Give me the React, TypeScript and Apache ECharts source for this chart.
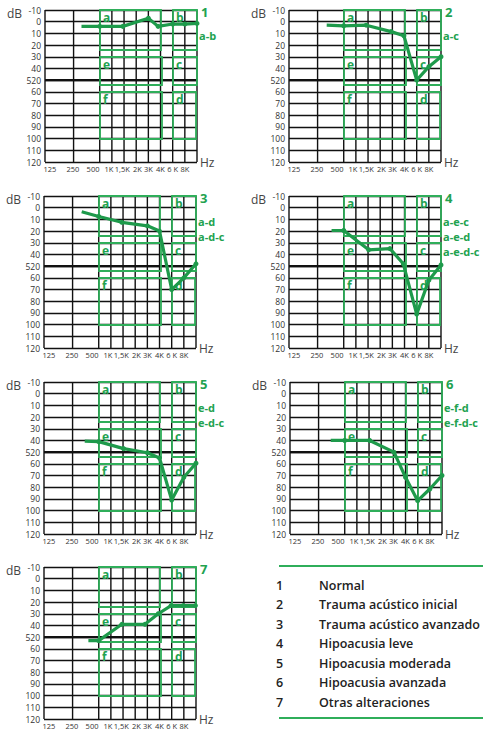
import React, { useEffect, useRef } from "react";
import * as echarts from "echarts";

// ---- data ----
const freqLabels = ["125", "250", "500", "1K", "1,5K", "2K", "3K", "4K", "6 K", "8K"];
const freqLabelPos = [0.4, 2.3, 3.95, 5.25, 6.35, 7.6, 8.5, 9.5, 10.5, 11.5];
const freqGridPos = [0, 2.35, 4.5, 5.5, 6.5, 7.5, 8.5, 9.5, 10.5, 11.5, 12.5];
const dbTicks = [-10, 0, 10, 20, 30, 40, 50, 60, 70, 80, 90, 100, 110, 120];
const dbTickLabels = ["-10", "0", "10", "20", "30", "40", "520", "60", "70", "80", "90", "100", "110", "120"];

const curve1 = [[3.0, 4], [4.5, 4], [6.4, 4], [8.5, -3], [9.3, 4], [10.5, 2], [11.5, 2], [12.5, 1.5]];
const curve2 = [[3.1, 3], [4.5, 3.5], [6.35, 3], [8.4, 8.5], [9.45, 12], [10.5, 50], [11.5, 38.5], [12.5, 30]];
const curve3 = [[3.1, 3.5], [4.5, 7.5], [6.4, 12.5], [8.5, 15.5], [9.5, 20], [10.5, 70], [11.5, 60], [12.5, 48]];
const curve4 = [[3.5, 19.5], [4.5, 19.5], [6.55, 36], [8.3, 35], [9.4, 48], [10.5, 91], [11.5, 62], [12.5, 49]];
const curve5 = [[3.35, 40.5], [4.5, 41], [6.55, 47], [8.5, 50.5], [9.5, 55], [10.5, 91], [11.5, 71.5], [12.5, 59.5]];
const curve6 = [[3.35, 40], [4.5, 40], [6.55, 40], [8.55, 50], [9.5, 71.5], [10.5, 91.5], [11.5, 81.5], [12.5, 70]];
const curve7 = [[3.65, 53], [4.5, 53], [6.4, 39], [8.3, 39], [9.4, 30], [10.45, 23], [11.45, 23], [12.45, 23]];
const curves = [curve1, curve2, curve3, curve4, curve5, curve6, curve7];

const panelNumbers = ["1", "2", "3", "4", "5", "6", "7"];
const panelCodes = [
  ["a-b"],
  ["a-c"],
  ["a-d", "a-d-c"],
  ["a-e-c", "a-e-d", "a-e-d-c"],
  ["e-d", "e-d-c"],
  ["e-f-d", "e-f-d-c"],
  [],
];

const boxNames = ["a", "e", "f", "b", "c", "d"];
const boxFreq = [[4.5, 9.5], [4.5, 9.6], [4.5, 9.6], [10.5, 12.5], [10.5, 12.5], [10.5, 12.4]];
const boxDb = [[-10, 24], [30, 54], [60, 100], [-10, 24], [30, 54], [60, 100]];

const legendNumbers = ["1", "2", "3", "4", "5", "6", "7"];
const legendLabels = [
  "Normal",
  "Trauma acústico inicial",
  "Trauma acústico avanzado",
  "Hipoacusia leve",
  "Hipoacusia moderada",
  "Hipoacusia avanzada",
  "Otras alteraciones",
];

// ---- layout / style ----
const PANELS = [
  [45, 10], [289, 10],
  [44, 196], [289, 196],
  [44, 382], [290, 382],
  [44, 567],
];
const PW = 152;
const PH = 152;
const FONT = "'Open Sans', 'DejaVu Sans', sans-serif";
const CURVE = "#1e9a4b";
const BOX = "#2fae5a";
const TGREEN = "#22a250";
const GRIDC = "#111";

function nearestLabel(v: number, pos: number[], labels: string[]) {
  let best = 0;
  for (let i = 1; i < pos.length; i++) {
    if (Math.abs(pos[i] - v) < Math.abs(pos[best] - v)) best = i;
  }
  return labels[best];
}

function buildOption() {
  const grid: any[] = [];
  const xAxis: any[] = [];
  const yAxis: any[] = [];
  const series: any[] = [];
  const graphic: any[] = [];

  PANELS.forEach(([left, top], i) => {
    grid.push({ left, top, width: PW, height: PH, outerBoundsMode: "none", containLabel: false });
    xAxis.push({
      gridIndex: i,
      type: "value",
      min: 0,
      max: 12.5,
      axisLine: { show: false, onZero: false },
      axisTick: { show: false },
      splitLine: { show: false },
      axisLabel: {
        customValues: freqLabelPos,
        formatter: (v: number) => nearestLabel(v, freqLabelPos, freqLabels),
        fontSize: 7.5,
        fontFamily: FONT,
        color: "#333",
        margin: 3,
        hideOverlap: false,
      },
    });
    yAxis.push({
      gridIndex: i,
      type: "value",
      inverse: true,
      min: -10,
      max: 120,
      interval: 10,
      axisLine: { show: false },
      axisTick: { show: false },
      splitLine: { show: true, lineStyle: { color: GRIDC, width: 1.4, type: "solid", opacity: 1 } },
      axisLabel: {
        formatter: (v: number) => nearestLabel(v, dbTicks, dbTickLabels),
        fontSize: 8.5,
        fontFamily: FONT,
        color: "#333",
        margin: 4,
      },
    });

    // vertical grid lines
    series.push({
      type: "custom",
      xAxisIndex: i,
      yAxisIndex: i,
      z: 1,
      silent: true,
      clip: false,
      data: freqGridPos.map((v) => [v, 55]),
      renderItem: (_p: any, api: any) => {
        const v = api.value(0);
        const a = api.coord([v, -10]);
        const b = api.coord([v, 120]);
        return {
          type: "line",
          shape: { x1: a[0], y1: a[1], x2: b[0], y2: b[1] },
          style: { stroke: GRIDC, lineWidth: 1.4, opacity: 1 },
        };
      },
    });
    // thick 50 dB line
    series.push({
      type: "custom",
      xAxisIndex: i,
      yAxisIndex: i,
      z: 1,
      silent: true,
      clip: false,
      data: [[6, 50]],
      renderItem: (_p: any, api: any) => {
        const v = api.value(1);
        const a = api.coord([0, v]);
        const b = api.coord([12.5, v]);
        return {
          type: "line",
          shape: { x1: a[0], y1: a[1], x2: b[0], y2: b[1] },
          style: { stroke: GRIDC, lineWidth: 2.2 },
        };
      },
    });

    // zone boxes
    series.push({
      type: "custom",
      xAxisIndex: i,
      yAxisIndex: i,
      z: 2,
      silent: true,
      clip: false,
      data: boxNames.map((_n, k) => [boxFreq[k][0], boxDb[k][0], boxFreq[k][1], boxDb[k][1], k]),
      renderItem: (_p: any, api: any) => {
        const p0 = api.coord([api.value(0), api.value(1)]);
        const p1 = api.coord([api.value(2), api.value(3)]);
        const k = api.value(4);
        const x0 = Math.round(p0[0]);
        const y0 = Math.round(p0[1]);
        const x1 = Math.round(p1[0]);
        const y1 = Math.round(p1[1]);
        return {
          type: "group",
          children: [
            {
              type: "rect",
              shape: { x: x0, y: y0, width: x1 - x0, height: y1 - y0 },
              style: { fill: "none", stroke: BOX, lineWidth: 1.8 },
            },
            {
              type: "text",
              x: x0 + 3,
              y: y0 + 1,
              style: {
                text: boxNames[k],
                fill: TGREEN,
                fontSize: 12,
                fontWeight: "bold",
                fontFamily: FONT,
                verticalAlign: "top",
              },
            },
          ],
        };
      },
    });

    // audiogram curve
    series.push({
      type: "line",
      xAxisIndex: i,
      yAxisIndex: i,
      z: 3,
      symbol: "circle",
      symbolSize: 5,
      showSymbol: true,
      clip: false,
      lineStyle: { color: CURVE, width: 3.2 },
      itemStyle: { color: CURVE },
      data: curves[i].map((p, j) => (j === 0 ? { value: p, symbol: "none" } : { value: p })),
    });

    // texts
    graphic.push({
      type: "text",
      left: left - 38,
      top: top - 3,
      style: { text: "dB", fontSize: 12, fontFamily: FONT, fill: "#444" },
    });
    graphic.push({
      type: "text",
      left: left + PW + 3,
      top: top + PH - 6,
      style: { text: "Hz", fontSize: 12, fontFamily: FONT, fill: "#444" },
    });
    graphic.push({
      type: "text",
      left: left + PW + 4,
      top: top - 5,
      style: { text: panelNumbers[i], fontSize: 13, fontWeight: "bold", fontFamily: FONT, fill: TGREEN },
    });
    panelCodes[i].forEach((code, r) => {
      graphic.push({
        type: "text",
        left: left + PW + 2,
        top: top + 20 + r * 15,
        style: { text: code, fontSize: 11, fontWeight: "bold", fontFamily: FONT, fill: TGREEN },
      });
    });
  });

  // legend block
  graphic.push({ type: "rect", shape: { x: 279, y: 565, width: 204, height: 2 }, style: { fill: BOX } });
  graphic.push({ type: "rect", shape: { x: 279, y: 717, width: 204, height: 2 }, style: { fill: BOX } });
  legendLabels.forEach((label, k) => {
    const y = 585 + k * 19.5;
    graphic.push({
      type: "text",
      x: 276,
      y,
      style: { text: legendNumbers[k], fontSize: 12.5, fontWeight: 600, fontFamily: FONT, fill: "#222", verticalAlign: "middle" },
    });
    graphic.push({
      type: "text",
      x: 319,
      y,
      style: { text: label, fontSize: 12.5, fontWeight: 600, fontFamily: FONT, fill: "#222", verticalAlign: "middle" },
    });
  });

  return {
    animation: false,
    backgroundColor: "#fff",
    grid,
    xAxis,
    yAxis,
    series,
    graphic,
  };
}

export default function App() {
  const ref = useRef<HTMLDivElement>(null);
  useEffect(() => {
    if (!ref.current) return;
    const chart = echarts.init(ref.current, undefined, { renderer: "svg" });
    chart.setOption(buildOption() as any);
    return () => chart.dispose();
  }, []);
  return (
    <div
      ref={ref}
      style={{ position: "absolute", left: 0, top: 0, width: 483, height: 731 }}
    />
  );
}
